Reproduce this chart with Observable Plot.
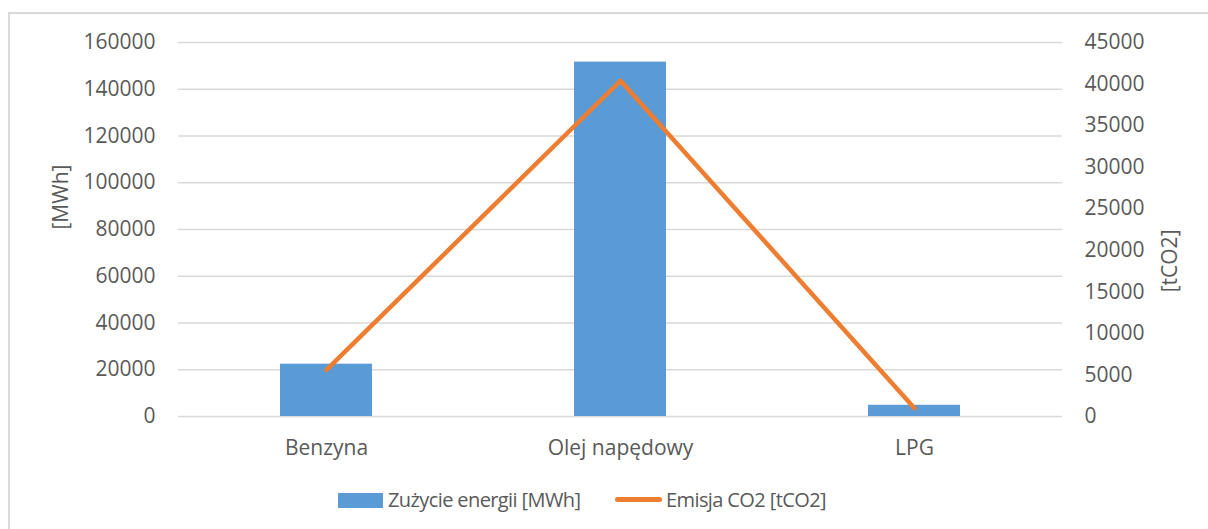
<!DOCTYPE html>
<html>
<head>
<meta charset="utf-8">
<script src="https://cdn.jsdelivr.net/npm/d3@7"></script>
<script src="https://cdn.jsdelivr.net/npm/@observablehq/plot@0.6"></script>
<style>
  body { margin: 0; background: #fff; font-family: "Open Sans", sans-serif; }
  #frame { position: absolute; left: 8px; top: 12px; width: 1300px; height: 700px; border: 2px solid #d9d9d9; box-sizing: border-box; }
  #chart { position: absolute; left: 0; top: 0; }
  #legend { position: absolute; left: 0; top: 486px; width: 1208px; height: 30px; font-size: 20px; letter-spacing: -0.6px; color: #595959; }
  .lg { position: absolute; top: 0; line-height: 28px; white-space: nowrap; }
</style>
</head>
<body>
<div id="frame"></div>
<div id="chart"></div>
<div id="legend"></div>
<script>
const categories = ["Benzyna", "Olej napędowy", "LPG"];
const energyMWh = [22400, 151600, 4800];
const co2t = [5600, 40400, 1000];
const leftTicks = [0, 20000, 40000, 60000, 80000, 100000, 120000, 140000, 160000];
const rightTicks = [0, 5000, 10000, 15000, 20000, 25000, 30000, 35000, 40000, 45000];
const seriesNames = ["Zużycie energii [MWh]", "Emisja CO2 [tCO2]"];
const axisTitles = ["[MWh]", "[tCO2]"];

const leftMax = 160000, rightMax = 45000;
const k = leftMax / rightMax;

const data = categories.map((c, i) => ({cat: c, energy: energyMWh[i], co2: co2t[i] * k}));
const textColor = "#595959";

const plot = Plot.plot({
  width: 1208,
  height: 470,
  marginLeft: 178,
  marginRight: 146,
  marginTop: 42,
  marginBottom: 54,
  style: {fontFamily: "'Open Sans', sans-serif", fontSize: "21px", color: textColor, background: "transparent"},
  x: {domain: categories, paddingInner: 0.688, paddingOuter: 0.344},
  y: {domain: [0, leftMax]},
  marks: [
    Plot.gridY(leftTicks, {stroke: "#d9d9d9", strokeOpacity: 1, strokeWidth: 1.4}),
    Plot.barY(data, {x: "cat", y: "energy", fill: "#5B9BD5"}),
    Plot.line(data, {x: "cat", y: "co2", stroke: "#ED7D31", strokeWidth: 4.5, strokeLinecap: "round", strokeLinejoin: "round"}),
    Plot.axisY(leftTicks, {anchor: "left", tickSize: 0, tickPadding: 23, label: null, fill: textColor, fontSize: 21, tickFormat: d => String(d)}),
    Plot.axisY(rightTicks.map(v => v * k), {anchor: "right", tickSize: 0, tickPadding: 22, label: null, fill: textColor, fontSize: 21, tickFormat: d => String(Math.round(d / k))}),
    Plot.axisX({tickSize: 0, tickPadding: 24, label: null, fill: textColor, fontSize: 21}),
    Plot.text([axisTitles[0]], {frameAnchor: "left", dx: -117, rotate: -90, fill: textColor, fontSize: 21}),
    Plot.text([axisTitles[1]], {frameAnchor: "right", dx: 108, rotate: -90, fill: textColor, fontSize: 21})
  ]
});
document.getElementById("chart").appendChild(plot);

const legend = document.getElementById("legend");
legend.innerHTML = `
  <div class="lg" style="left:338px;"><span style="display:inline-block;width:45px;height:15px;background:#5B9BD5;vertical-align:-1px;margin-right:5px;"></span>${seriesNames[0]}</div>
  <div class="lg" style="left:615px;"><span style="display:inline-block;width:47px;height:5px;border-radius:3px;background:#ED7D31;vertical-align:5px;margin-right:4px;"></span>${seriesNames[1]}</div>
`;
</script>
</body>
</html>
